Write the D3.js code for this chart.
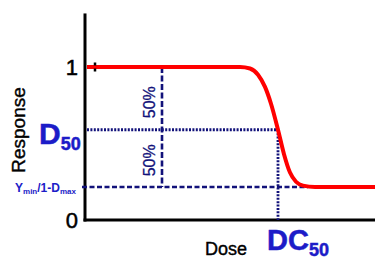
<!DOCTYPE html>
<html><head><meta charset="utf-8">
<script src="https://cdn.jsdelivr.net/npm/d3@7"></script>
<style>body{margin:0;background:#fff}svg{display:block;font-family:"Liberation Sans",Arial,sans-serif}</style>
</head><body><svg id="c" width="375" height="259"></svg>
<script>
const dose = [2, 155, 165, 173, 180, 186, 193, 199, 205, 211, 218, 230, 290];
const response = [1, 1, 0.99, 0.95, 0.87, 0.76, 0.59, 0.43, 0.31, 0.25, 0.225, 0.216, 0.216];
const yTicks = ["0", "1"];
const yMin = 0.216, d50 = 0.59, dc50 = 193, d50Dose = 77;

const svg = d3.select("#c");
const x = d3.scaleLinear().domain([0, 290]).range([85, 375]);
const y = d3.scaleLinear().domain([0, 1]).range([220, 67]);
const navy = "#12127a", blue = "#1c1cc8";

// axes
svg.append("line").attr("x1", x(0)).attr("x2", x(0)).attr("y1", y(1.35)).attr("y2", y(0) + 1.5).attr("stroke", "#000").attr("stroke-width", 3);
svg.append("line").attr("x1", x(0) - 1.5).attr("x2", x(290)).attr("y1", y(0)).attr("y2", y(0)).attr("stroke", "#000").attr("stroke-width", 3);

// guide lines
svg.append("line").attr("x1", x(d50Dose)).attr("x2", x(d50Dose)).attr("y1", y(1)).attr("y2", y(yMin)).attr("stroke", navy).attr("stroke-width", 2.6).attr("stroke-dasharray", "6,2.5");
svg.append("line").attr("x1", x(-3)).attr("x2", x(223)).attr("y1", y(yMin)).attr("y2", y(yMin)).attr("stroke", navy).attr("stroke-width", 2.6).attr("stroke-dasharray", "5,2.5");
svg.append("line").attr("x1", x(2)).attr("x2", x(dc50)).attr("y1", y(d50)).attr("y2", y(d50)).attr("stroke", navy).attr("stroke-width", 2.8).attr("stroke-dasharray", "2,1.4");
svg.append("line").attr("x1", x(dc50)).attr("x2", x(dc50)).attr("y1", y(d50)).attr("y2", y(0)).attr("stroke", navy).attr("stroke-width", 2.8).attr("stroke-dasharray", "2,1.4");

// curve
const pts = dose.map((d, i) => [d, response[i]]);
svg.append("path").datum(pts).attr("fill", "none").attr("stroke", "#ff0000").attr("stroke-width", 4)
  .attr("d", d3.line().x(d => x(d[0])).y(d => y(d[1])).curve(d3.curveMonotoneX));

// small black mark
svg.append("line").attr("x1", x(10)).attr("x2", x(10)).attr("y1", y(1) - 4.5).attr("y2", y(1) + 4.5).attr("stroke", "#000").attr("stroke-width", 2.5).attr("stroke-dasharray", "3,3");

// tick labels
svg.selectAll("text.tick").data(yTicks).enter().append("text")
  .attr("x", 78).attr("y", d => y(+d) + 8).attr("text-anchor", "end").attr("font-size", 22)
  .attr("fill", "#000").attr("stroke", "#000").attr("stroke-width", 0.5).text(d => d);

// 50% labels
[[d50Dose, 0.77], [d50Dose, 0.39]].forEach(p => {
  svg.append("text").attr("transform", `translate(${x(p[0]) - 7},${y(p[1])}) rotate(-90)`)
    .attr("text-anchor", "middle").attr("font-size", 16).attr("fill", navy).attr("stroke", navy).attr("stroke-width", 0.3).text("50%");
});

// D50
const t1 = svg.append("text").attr("x", 39).attr("y", 144).attr("fill", blue).attr("stroke", blue).attr("stroke-width", 0.5).attr("font-weight", "bold").attr("font-size", 30);
t1.append("tspan").text("D");
t1.append("tspan").attr("font-size", 18).attr("dy", 6).text("50");

// Ymin/1-Dmax
const t2 = svg.append("text").attr("x", 15).attr("y", 192).attr("fill", blue).attr("font-weight", "bold").attr("font-size", 12);
t2.append("tspan").text("Y");
t2.append("tspan").attr("font-size", 8).attr("dy", 2).text("min");
t2.append("tspan").attr("dy", -2).text("/1-D");
t2.append("tspan").attr("font-size", 8).attr("dy", 2).text("max");

// Response
svg.append("text").attr("transform", `translate(25,130) rotate(-90)`).attr("text-anchor", "middle").attr("font-size", 19)
  .attr("fill", "#000").attr("stroke", "#000").attr("stroke-width", 0.4).text("Response");

// Dose
svg.append("text").attr("x", 226).attr("y", 255).attr("text-anchor", "middle").attr("font-size", 18)
  .attr("fill", "#000").attr("stroke", "#000").attr("stroke-width", 0.4).text("Dose");

// DC50
const t3 = svg.append("text").attr("x", 267).attr("y", 250).attr("fill", blue).attr("stroke", blue).attr("stroke-width", 0.5).attr("font-weight", "bold").attr("font-size", 29);
t3.append("tspan").text("DC");
t3.append("tspan").attr("font-size", 18).attr("dy", 6).text("50");
</script></body></html>
